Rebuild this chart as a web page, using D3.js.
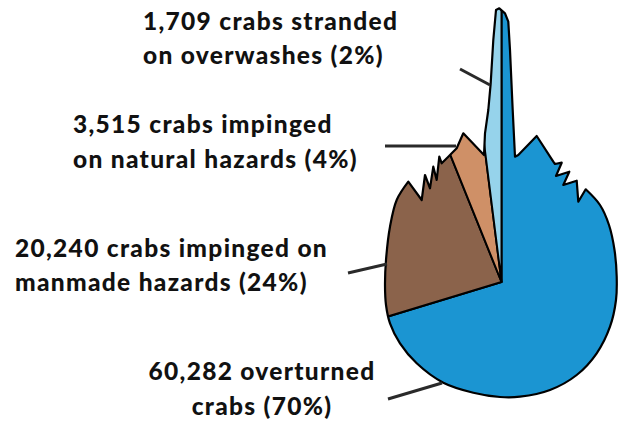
<!DOCTYPE html>
<html>
<head>
<meta charset="utf-8">
<script src="https://cdn.jsdelivr.net/npm/d3@7"></script>
<style>
  html, body { margin: 0; padding: 0; background: #fff; }
  svg { display: block; }
  text { font-family: "Lato", "DejaVu Sans", sans-serif; font-weight: 900; fill: #111; }
</style>
</head>
<body>
<svg id="chart" width="623" height="423"></svg>
<script>
// ---- data ----
const categories = ["overturned", "impinged on manmade hazards", "impinged on natural hazards", "stranded on overwashes"];
const values = [60282, 20240, 3515, 1709];
const percents = [70, 24, 4, 2];
const labelLines = [
  ["60,282 overturned", "crabs (70%)"],
  ["20,240 crabs impinged on", "manmade hazards (24%)"],
  ["3,515 crabs impinged", "on natural hazards (4%)"],
  ["1,709 crabs stranded", "on overwashes (2%)"]
];
const sliceColor = ["#1b95d2", "#8b634b", "#cf9067", "#96d3eb"];

// ---- layout ----
const W = 623, H = 423;
const cx = 501.5, cy = 282;
const svg = d3.select("#chart");

// horseshoe-crab silhouette (absolute px), split into straight (jagged) and smooth parts
const shapeJaggedA = [
  [499.3, 8.3], [505, 13.3], [508.3, 21.7], [510, 50], [512.7, 110], [515, 156.7],
  [518.3, 155], [536.7, 136], [553.3, 161.7], [555, 164], [561.7, 162.7], [556, 176],
  [569.3, 171.7], [563.3, 185], [576.7, 180.7], [578.3, 201.7], [585.7, 189.3]
];
const shapeSmooth = [
  [585.7, 189.3], [600, 205], [609, 225], [614.5, 250], [616.7, 276.7], [616, 300],
  [610, 326.7], [596.7, 353.3], [576.7, 375], [550, 390], [520, 396.7], [500, 397],
  [473.3, 392.7], [443.3, 382.7], [416.7, 363.3], [400, 343.3], [390, 323.3],
  [386, 305], [385, 285], [386, 260], [390, 226.7], [396.7, 200], [408.3, 181.7]
];
const shapeJaggedB = [
  [408.3, 181.7], [421.7, 200], [425, 175], [430, 188.3], [433.3, 166.7], [436.7, 180],
  [439.3, 156.7], [441.7, 163.3], [448.3, 156.7], [451.7, 153.3], [456.7, 148.3],
  [463.3, 133.3], [484, 155], [485, 133.3], [488.3, 110], [490.7, 83.3], [493.3, 40],
  [496, 10], [499.3, 8.3]
];
const lin = d3.line();
const smooth = d3.line().curve(d3.curveCatmullRom.alpha(0.5));
const outlinePath = lin(shapeJaggedA) +
  "L" + shapeSmooth[0].join(",") + smooth(shapeSmooth).replace(/^M[^CL]*/, "") +
  lin(shapeJaggedB).replace(/^M/, "L") + "Z";

svg.append("defs").append("clipPath").attr("id", "crab")
  .append("path").attr("d", outlinePath);

// pie
const pie = d3.pie().sort(null).value(d => d);
const arcs = pie(values);
const arc = d3.arc().innerRadius(0).outerRadius(420);

const g = svg.append("g").attr("clip-path", "url(#crab)");
g.append("g").attr("transform", `translate(${cx},${cy})`)
  .selectAll("path").data(arcs).join("path")
  .attr("d", arc)
  .attr("fill", (d, i) => sliceColor[i])
  .attr("stroke", "#000")
  .attr("stroke-width", 2)
  .attr("stroke-linejoin", "round");

svg.append("path").attr("d", outlinePath)
  .attr("fill", "none").attr("stroke", "#000")
  .attr("stroke-width", 2.2).attr("stroke-linejoin", "round");

// leader lines and labels (order matches data)
const leaders = [
  [[388, 399], [442, 383]],
  [[348, 273], [387, 264]],
  [[385, 146], [456, 146]],
  [[460, 69], [490, 85]]
];
const labelPos = [
  { x: 262, y: 380, anchor: "middle" },
  { x: 15, y: 256.5, anchor: "start" },
  { x: 73, y: 133, anchor: "start" },
  { x: 143, y: 29.5, anchor: "start" }
];
const lineGap = 34.5;

svg.append("g").selectAll("line").data(leaders).join("line")
  .attr("x1", d => d[0][0]).attr("y1", d => d[0][1])
  .attr("x2", d => d[1][0]).attr("y2", d => d[1][1])
  .attr("stroke", "#2a2a2a").attr("stroke-width", 3);

const lab = svg.append("g").selectAll("text").data(labelLines).join("text")
  .attr("x", (d, i) => labelPos[i].x)
  .attr("y", (d, i) => labelPos[i].y)
  .attr("text-anchor", (d, i) => labelPos[i].anchor)
  .style("font-size", "24.5px")
  .style("letter-spacing", "1.3px");
lab.selectAll("tspan").data((d, i) => d.map(t => ({ t, i }))).join("tspan")
  .attr("x", d => labelPos[d.i].x)
  .attr("dy", (d, j) => j === 0 ? 0 : lineGap)
  .text(d => d.t);
</script>
</body>
</html>
